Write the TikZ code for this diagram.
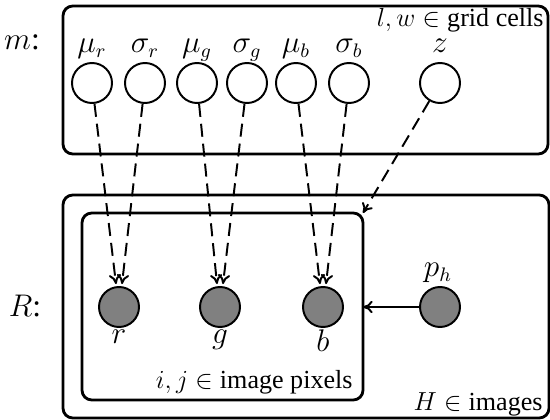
\documentclass[tikz,border=0pt]{standalone}
\usepackage{fontspec}
\setmainfont{Liberation Serif}
\usetikzlibrary{calc,arrows.meta}
\begin{document}
\begin{tikzpicture}[x=0.46pt,y=-0.46pt,
  font=\fontsize{12}{14}\selectfont,
  latent/.style={circle, draw, line width=0.9pt, minimum size=18.4pt, inner sep=0pt, fill=white},
  obs/.style={latent, fill=gray},
  plate/.style={draw, line width=1.3pt, rounded corners=4.5pt},
  tip/.style={-{To[length=4.4pt,width=5.6pt]}},
  dep/.style={tip, line width=0.9pt, dash pattern=on 6pt off 3.2pt},
  lbl/.style={inner sep=0pt, anchor=base, font=\fontsize{13.5}{16}\selectfont},
  sidelbl/.style={lbl, font=\fontsize{14.5}{17}\selectfont},
  platelbl/.style={inner sep=0pt, anchor=base east}]
\useasboundingbox (0,0) rectangle (550,420);

% plates
\draw[plate] (63,6) rectangle (548,154);
\draw[plate] (63,195) rectangle (549,418);
\draw[plate] (82,213) rectangle (363,400);
\coordinate (pixNE) at (363,213);
\coordinate (pixE) at (363,307);

% plate labels
\node[platelbl] (cells) at (544,27) {$l,w\in{}$grid cells};
\node[platelbl] (pixels) at (353,389) {$i,j\in{}$image pixels};
\node[platelbl] (images) at (543,410) {$H\in{}$images};
\node[sidelbl] (mlab) at (22,50) {$m$:};
\node[sidelbl] (Rlab) at (25,317) {$R$:};

% per-cell parameters
\node[latent] (mur) at (92,83) {};
\node[latent] (sgr) at (145,83) {};
\node[latent] (mug) at (197,83) {};
\node[latent] (sgg) at (247,83) {};
\node[latent] (mub) at (296,83) {};
\node[latent] (sgb) at (349,83) {};
\node[latent] (z) at (440,83) {};
\node[lbl] (murl) at (92,53) {$\mu_r$};
\node[lbl] (sgrl) at (145,53) {$\sigma_r$};
\node[lbl] (mugl) at (197,53) {$\mu_g$};
\node[lbl] (sggl) at (247,53) {$\sigma_g$};
\node[lbl] (mubl) at (296,53) {$\mu_b$};
\node[lbl] (sgbl) at (349,53) {$\sigma_b$};
\node[lbl] (zl) at (440,53) {$z$};

% observed pixel values
\node[obs] (r) at (119,307) {};
\node[obs] (g) at (220,307) {};
\node[obs] (b) at (323,307) {};
\node[obs] (ph) at (440,307) {};
\node[lbl] (rl) at (119,344) {$r$};
\node[lbl] (gl) at (220,344) {$g$};
\node[lbl] (bl) at (323,352) {$b$};
\node[lbl] (phl) at (438,277) {$p_h$};

% dependencies
\draw[dep] (mur) -- ([shift={(-3,-2)}]r.north);
\draw[dep] (sgr) -- ([shift={(3,-2)}]r.north);
\draw[dep] (mug) -- ([shift={(-3,-2)}]g.north);
\draw[dep] (sgg) -- ([shift={(3,-2)}]g.north);
\draw[dep] (mub) -- ([shift={(-3,-2)}]b.north);
\draw[dep] (sgb) -- ([shift={(3,-2)}]b.north);
\draw[dep] (z) -- (pixNE);
\draw[tip, line width=0.9pt] (ph) -- (pixE);
\end{tikzpicture}
\end{document}
